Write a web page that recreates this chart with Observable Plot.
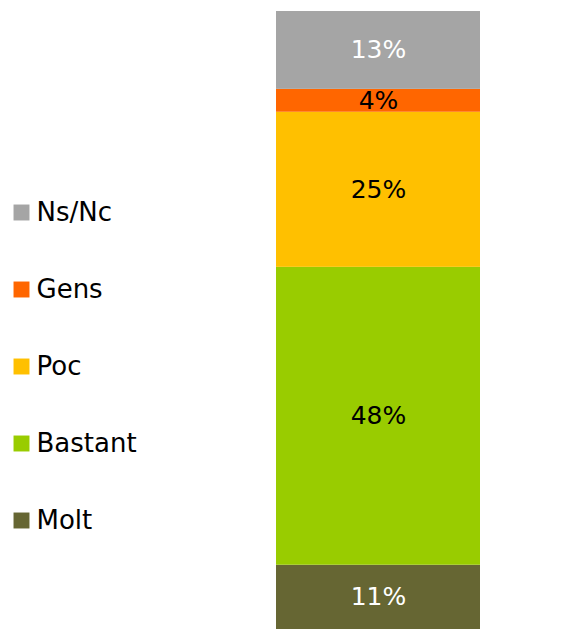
<!DOCTYPE html>
<html>
<head>
<meta charset="utf-8">
<script src="https://cdn.jsdelivr.net/npm/d3@7"></script>
<script src="https://cdn.jsdelivr.net/npm/@observablehq/plot@0.6"></script>
<style>
  html, body { margin: 0; padding: 0; background: #fff; }
  #wrap { position: relative; width: 574px; height: 629px; }
  #wrap > svg { position: absolute; left: 0; top: 0; }
</style>
</head>
<body>
<div id="wrap"></div>
<script>
// Data (bottom to top of the stacked bar)
const categories = ["Molt", "Bastant", "Poc", "Gens", "Ns/Nc"];
const values = [10.4, 48.2, 25.1, 3.7, 12.6];
const labels = ["11%", "48%", "25%", "4%", "13%"];
const colors = ["#666633", "#99CC00", "#FFC000", "#FF6600", "#A5A5A5"];
const labelColors = ["#ffffff", "#000000", "#000000", "#000000", "#ffffff"];

const data = categories.map((c, i) => ({
  bar: "all", category: c, value: values[i], label: labels[i],
  color: colors[i], labelColor: labelColors[i]
}));

const font = "'DejaVu Sans', sans-serif";

const chart = Plot.plot({
  width: 574,
  height: 629,
  marginLeft: 276,
  marginRight: 94,
  marginTop: 11,
  marginBottom: 0,
  style: { fontFamily: font, background: "transparent", overflow: "visible" },
  x: { domain: ["all"], padding: 0, axis: null },
  y: { domain: [0, d3.sum(values)], axis: null },
  color: { type: "identity" },
  marks: [
    Plot.barY(data, { x: "bar", y: "value", fill: "color", order: null }),
    Plot.text(data, Plot.stackY({
      x: "bar", y: "value", text: "label", fill: "labelColor",
      fontSize: 25, order: null
    }))
  ]
});

const legendOrder = categories.slice().reverse();
const legend = Plot.plot({
  width: 200,
  height: 629,
  marginLeft: 0,
  marginRight: 0,
  marginTop: 211,
  marginBottom: 108,
  style: { fontFamily: font, background: "transparent", overflow: "visible" },
  x: { domain: [0, 200], range: [0, 200], axis: null },
  y: { type: "point", domain: legendOrder, padding: 0, axis: null },
  color: { type: "identity" },
  marks: [
    Plot.dot(data, { x: () => 21, y: "category", symbol: "square", r: 9, fill: "color", stroke: null }),
    Plot.text(data, { x: () => 36, y: "category", text: "category", textAnchor: "start", fontSize: 26, fill: "#000" })
  ]
});

const wrap = document.getElementById("wrap");
wrap.appendChild(chart);
wrap.appendChild(legend);
</script>
</body>
</html>
